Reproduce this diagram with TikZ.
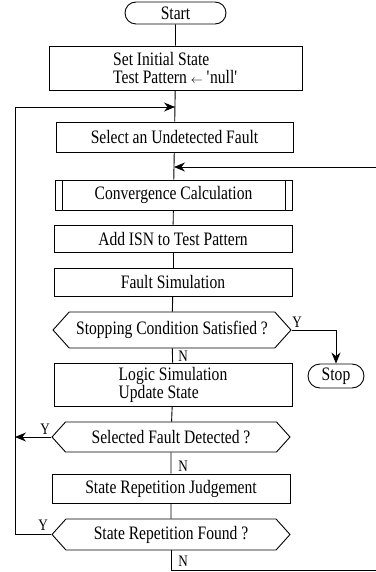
\documentclass[tikz,border=0pt]{standalone}
\usepackage{fontspec}
\setmainfont{Liberation Serif}[FakeStretch=0.82]
\usetikzlibrary{shapes.misc,shapes.symbols,arrows.meta}

\tikzset{
  proc/.style={draw,line width=0.9pt,minimum width=238pt,inner sep=2pt},
  term/.style={draw,line width=0.9pt,rounded rectangle,inner sep=2pt},
  test/.style={draw,line width=0.9pt,signal,signal to=west and east,
    signal pointer angle=96,minimum width=238pt,inner sep=2pt},
  flow/.style={line width=0.9pt},
  loopin/.style={line width=0.9pt,-{Stealth[length=11pt,width=9pt]}},
  yn/.style={inner sep=0pt,font=\fontsize{16}{18}\selectfont}
}
\newcommand{\assignarrow}{{\fontsize{13}{13}\selectfont$\leftarrow$}}

\begin{document}
\begin{tikzpicture}[x=1pt,y=-1pt,font=\fontsize{19}{18}\selectfont]
  \useasboundingbox (0,0) rectangle (375,572);

  \node[term,minimum width=105pt,minimum height=22pt] (start) at (175.5,13) {Start};
  \node[proc,minimum width=253pt,minimum height=44pt,align=left] (init) at (175.5,68)
    {Set Initial State\\Test Pattern \assignarrow{} \textquotesingle null\textquotesingle};
  \node[proc,minimum width=237pt,minimum height=30pt] (select) at (174.5,137) {Select an Undetected Fault};
  \node[proc,minimum width=237pt,minimum height=30pt] (conv) at (173.5,195) {Convergence Calculation};
  \node[proc,minimum height=27pt] (addisn) at (173,238.5) {Add ISN to Test Pattern};
  \node[proc,minimum height=28pt] (faultsim) at (173,282) {Fault Simulation};
  \node[test,minimum height=36pt] (stopcond) at (172,330) {Stopping Condition Satisfied ?};
  \node[term,minimum width=60pt,minimum height=24pt] (stop) at (336,376) {Stop};
  \node[proc,minimum height=43pt,align=left] (logic) at (173,384.5) {Logic Simulation\\Update State};
  \node[test,minimum height=30pt] (detected) at (171,437) {Selected Fault Detected ?};
  \node[proc,minimum height=29pt] (judge) at (171,488.5) {State Repetition Judgement};
  \node[test,minimum height=31pt] (found) at (171,534.5) {State Repetition Found ?};

  % double bars of the predefined process
  \draw[flow] ([xshift=8]conv.north west) -- ([xshift=8]conv.south west);
  \draw[flow] ([xshift=-7]conv.north east) -- ([xshift=-7]conv.south east);

  % join points on the main line and the loop corners
  \coordinate (jtop) at (175,107);
  \coordinate (jmid) at (174,167);
  \coordinate (lbot) at (15,534.5);
  \coordinate (ltop) at (15,107);
  \coordinate (ldet) at (15,437);
  \coordinate (stopc) at (336,330);
  \coordinate (nbot) at (171,570);
  \coordinate (rbot) at (380,570);
  \coordinate (rtop) at (380,167);

  % main line
  \path[draw,flow] (start) -- (init);
  \path[draw,flow] (init) -- (select);
  \path[draw,flow] (select) -- (conv);
  \path[draw,flow] (conv) -- (addisn);
  \path[draw,flow] (addisn) -- (faultsim);
  \path[draw,flow] (faultsim) -- (stopcond);
  \path[draw,flow] (stopcond) -- (logic);
  \path[draw,flow] (logic) -- (detected);
  \path[draw,flow] (detected) -- (judge);
  \path[draw,flow] (judge) -- (found);

  % exits and loops
  \path[draw,loopin] (stopcond.east) -- (stopc) -- (stop.north);
  \path[draw,loopin] (detected.west) -- (ldet);
  \path[draw,loopin] (found.west) -- (lbot) -- (ltop) -- (jtop);
  \path[draw,loopin] (found.south) -- (nbot) -- (rbot) -- (rtop) -- (jmid);

  \node[yn] (ystop) at (297,322) {Y};
  \node[yn] (nstop) at (183,356) {N};
  \node[yn] (ydet) at (45,429) {Y};
  \node[yn] (ndet) at (183,466) {N};
  \node[yn] (yfound) at (43,525) {Y};
  \node[yn] (nfound) at (183,561) {N};
\end{tikzpicture}
\end{document}
